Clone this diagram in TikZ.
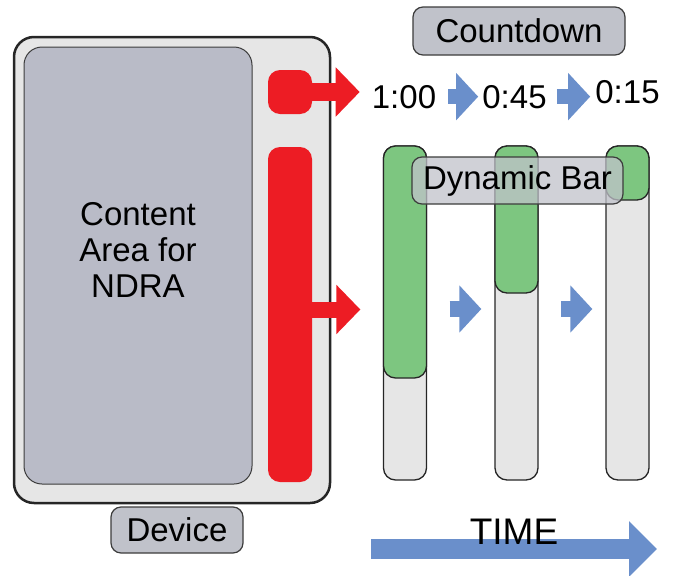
\documentclass[tikz,border=0pt]{standalone}
\usepackage{fontspec}
\setmainfont{Liberation Sans}
\usetikzlibrary{arrows.meta}
\definecolor{devgray}{RGB}{230,230,230}
\definecolor{areagray}{RGB}{185,187,199}
\definecolor{labelgray}{RGB}{192,194,202}
\definecolor{edgegray}{RGB}{60,60,60}
\definecolor{ndrared}{RGB}{237,28,36}
\definecolor{timeblue}{RGB}{106,143,203}
\definecolor{bargreen}{RGB}{125,198,128}
\begin{document}
\begin{tikzpicture}[x=1pt, y=-1pt,
        every node/.style={font=\fontsize{33}{36}\selectfont, inner sep=0pt},
        label box/.style={draw=edgegray, line width=1.2pt, fill=labelgray, rounded corners=10pt},
        bar/.style={draw=black!85, line width=1.3pt, fill=devgray, rounded corners=12pt, minimum width=43pt, minimum height=334pt},
        level/.style={draw=black!85, line width=1.3pt, fill=bargreen, rounded corners=12pt, minimum width=43pt, anchor=north},
        redpad/.style={fill=ndrared, rounded corners=12pt, minimum width=44pt},
        red arrow/.style={ndrared, line width=18pt, -{Triangle[length=24pt, width=48pt]}},
        blue arrow/.style={timeblue, line width=16pt, -{Triangle[length=22pt, width=46pt]}}]
        \useasboundingbox (0,0) rectangle (678,576);

        % device
        \node[draw=black!85, line width=2.5pt, fill=devgray, rounded corners=20pt, minimum width=316pt, minimum height=466pt] (device) at (172,270) {};
        \node[draw=edgegray, line width=1pt, fill=areagray, rounded corners=18pt, minimum width=228pt, minimum height=437pt] (area) at (138,265.5) {};
        \node[align=center] (ndra) at (138,250) {Content\\Area for\\NDRA};
        \node[redpad, minimum height=44pt] (cdpad) at (290,92) {};
        \node[redpad, minimum height=335pt] (barpad) at (290,314.5) {};
        \node[label box, minimum width=132pt, minimum height=46pt] (devlabel) at (177,530) {Device};

        % countdown
        \node[label box, minimum width=212pt, minimum height=48pt] (cdlabel) at (519,31) {Countdown};
        \node[anchor=base] (t1) at (404,108) {1:00};
        \node[anchor=base] (t2) at (514.5,108) {0:45};
        \node[anchor=base] (t3) at (627.5,103) {0:15};
        \draw[red arrow, shorten >=12pt] (cdpad.east) -- (cdpad.east -| t1.west);
        \draw[blue arrow, line width=15pt, shorten <=12pt, shorten >=4pt] (t1.east) -- (t1.east -| t2.west);
        \draw[blue arrow, line width=15pt, shorten <=10pt, shorten >=5pt] (t2.east) -- (t2.east -| t3.west);

        % dynamic bar
        \node[bar] (col1) at (405,313) {};
        \node[bar] (col2) at (516.5,313) {};
        \node[bar] (col3) at (627.5,313) {};
        \node[level, minimum height=232pt] (lvl1) at (col1.north) {};
        \node[level, minimum height=147pt] (lvl2) at (col2.north) {};
        \node[level, minimum height=54pt] (lvl3) at (col3.north) {};
        \node[label box, fill opacity=0.75, text opacity=1, minimum width=211pt, minimum height=47pt] (dynlabel) at (517.5,180.5) {Dynamic Bar};
        \draw[red arrow, line width=16pt, shorten >=22.5pt] ([yshift=5pt]barpad.east) -- ([yshift=5pt]barpad.east -| col1.west);
        \draw[blue arrow, shorten <=22.5pt, shorten >=13pt] ([yshift=4pt]col1.east) -- ([yshift=4pt]col1.east -| col2.west);
        \draw[blue arrow, shorten <=22.5pt, shorten >=13pt] ([yshift=4pt]col2.east) -- ([yshift=4pt]col2.east -| col3.west);

        % time
        \coordinate (tstart) at (371,549);
        \coordinate (tend) at (657,549);
        \draw[timeblue, line width=20pt, -{Triangle[length=28pt, width=54pt]}] (tstart) -- (tend);
        \node[anchor=base, font=\fontsize{37}{40}\selectfont] (time) at (514,544) {TIME};
\end{tikzpicture}
\end{document}
